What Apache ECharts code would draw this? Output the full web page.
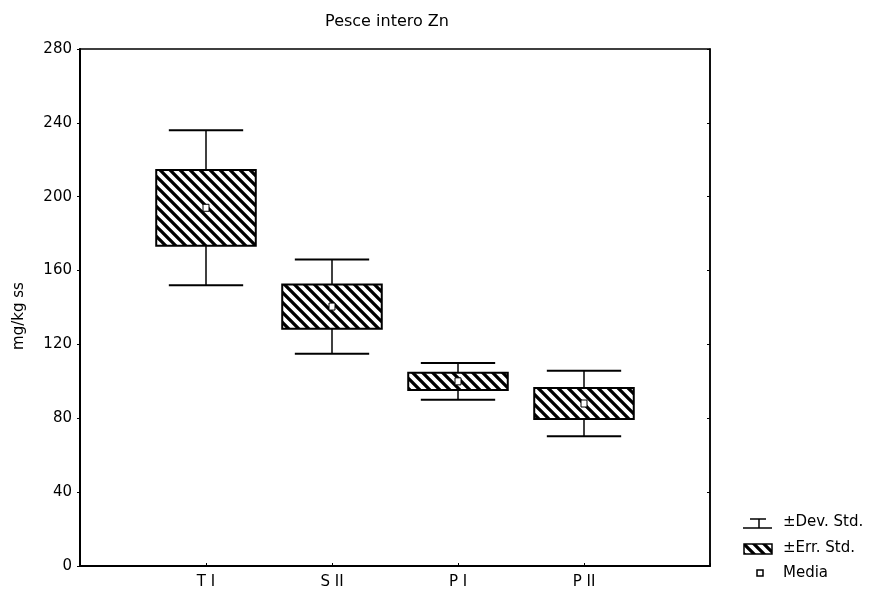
<!DOCTYPE html>
<html>
<head>
<meta charset="utf-8">
<script src="https://cdn.jsdelivr.net/npm/echarts@6/dist/echarts.min.js"></script>
<style>
html,body{margin:0;padding:0;background:#fff;}
#chart{width:870px;height:591px;}
</style>
</head>
<body>
<div id="chart"></div>
<script>
const titleText = 'Pesce intero Zn';
const yAxisName = 'mg/kg ss';
const categories = ['', 'T I', 'S II', 'P I', 'P II', ''];
const groupIndex = [1, 2, 3, 4];
const means = [194, 140.5, 100, 88];
const stdErr = [20.5, 12, 4.7, 8.4];
const stdDev = [42, 25.5, 10, 17.7];
const legendLabels = ['\u00B1Dev. Std.', '\u00B1Err. Std.', 'Media'];

function makeHatch() {
  const s = 10;
  const c = document.createElement('canvas');
  c.width = s; c.height = s;
  const g = c.getContext('2d');
  g.fillStyle = '#fff';
  g.fillRect(0, 0, s, s);
  g.strokeStyle = '#000';
  g.lineWidth = 3.3;
  g.beginPath();
  g.moveTo(-2, -2); g.lineTo(s + 2, s + 2);
  g.moveTo(-2, s - 2); g.lineTo(2, s + 2);
  g.moveTo(s - 2, -2); g.lineTo(s + 2, 2);
  g.stroke();
  return c;
}
const hatch = { image: makeHatch(), repeat: 'repeat' };

const seriesData = groupIndex.map((gi, i) => [gi, means[i], stdErr[i], stdDev[i]]);

const chart = echarts.init(document.getElementById('chart'), null, { renderer: 'canvas' });
const font = 'DejaVu Sans, Verdana, sans-serif';

chart.setOption({
  animation: false,
  backgroundColor: '#fff',
  title: {
    text: titleText,
    left: 382, top: 9, textAlign: 'center',
    textStyle: { fontSize: 16, fontWeight: 'normal', color: '#000', fontFamily: font }
  },
  grid: { left: 80, right: 160, top: 49, bottom: 25, show: true, borderColor: '#000', borderWidth: 1.5, backgroundColor: 'transparent' },
  xAxis: {
    type: 'category',
    data: categories,
    boundaryGap: false,
    axisLine: { show: true, lineStyle: { color: '#000', width: 2 } },
    axisTick: { show: true, inside: true, length: 3, lineStyle: { color: '#000' } },
    axisLabel: { color: '#000', fontSize: 15, fontFamily: font, margin: 9 },
    splitLine: { show: false }
  },
  yAxis: [{
    type: 'value',
    min: 0, max: 280, interval: 40,
    axisLine: { show: true, lineStyle: { color: '#000', width: 2 } },
    axisTick: { show: true, length: 3, lineStyle: { color: '#000' } },
    axisLabel: { color: '#000', fontSize: 15, fontFamily: font, margin: 8 },
    splitLine: { show: false }
  }, {
    type: 'value',
    position: 'right',
    min: 0, max: 280, interval: 40,
    axisLine: { show: true, lineStyle: { color: '#000', width: 1.5 } },
    axisTick: { show: true, inside: true, length: 3, lineStyle: { color: '#000' } },
    axisLabel: { show: false },
    splitLine: { show: false }
  }],
  series: [{
    type: 'custom',
    xAxisIndex: 0, yAxisIndex: 0,
    data: seriesData,
    renderItem: function (params, api) {
      const x = api.value(0);
      const m = api.value(1), se = api.value(2), sd = api.value(3);
      const step = api.size([1, 0])[0];
      const boxW = step * 0.79;
      const capW = step * 0.59;
      const pMean = api.coord([x, m]);
      const pSeHi = api.coord([x, m + se]);
      const pSeLo = api.coord([x, m - se]);
      const pSdHi = api.coord([x, m + sd]);
      const pSdLo = api.coord([x, m - sd]);
      const cx = pMean[0];
      const ls = { stroke: '#000', lineWidth: 1.5 };
      return {
        type: 'group',
        children: [
          { type: 'line', shape: { x1: cx, y1: pSdHi[1], x2: cx, y2: pSeHi[1] }, style: ls },
          { type: 'line', shape: { x1: cx, y1: pSeLo[1], x2: cx, y2: pSdLo[1] }, style: ls },
          { type: 'line', shape: { x1: cx - capW / 2, y1: pSdHi[1], x2: cx + capW / 2, y2: pSdHi[1] }, style: { stroke: '#000', lineWidth: 2 } },
          { type: 'line', shape: { x1: cx - capW / 2, y1: pSdLo[1], x2: cx + capW / 2, y2: pSdLo[1] }, style: { stroke: '#000', lineWidth: 2 } },
          { type: 'rect', shape: { x: cx - boxW / 2, y: pSeHi[1], width: boxW, height: pSeLo[1] - pSeHi[1] },
            style: { fill: hatch, stroke: '#000', lineWidth: 2 } },
          { type: 'rect', shape: { x: cx - 3, y: pMean[1] - 3.5, width: 6, height: 7 },
            style: { fill: '#fff', stroke: '#000', lineWidth: 1 } }
        ]
      };
    }
  }],
  graphic: [
    { type: 'text', x: 19, y: 316, rotation: Math.PI / 2,
      style: { text: yAxisName, fontSize: 15, fontFamily: font, fill: '#000', align: 'center', verticalAlign: 'middle' } },
    { type: 'line', shape: { x1: 750, y1: 519, x2: 766, y2: 519 }, style: { stroke: '#000', lineWidth: 1.5 } },
    { type: 'line', shape: { x1: 759, y1: 519, x2: 759, y2: 528 }, style: { stroke: '#000', lineWidth: 1.5 } },
    { type: 'line', shape: { x1: 743, y1: 528, x2: 772, y2: 528 }, style: { stroke: '#000', lineWidth: 1.5 } },
    { type: 'rect', shape: { x: 744, y: 544, width: 28, height: 10 }, style: { fill: hatch, stroke: '#000', lineWidth: 1.5 } },
    { type: 'rect', shape: { x: 757, y: 570, width: 6, height: 6 }, style: { fill: '#fff', stroke: '#000', lineWidth: 1.5 } },
    { type: 'text', x: 783, y: 522, style: { text: legendLabels[0], fontSize: 15, fontFamily: font, fill: '#000', verticalAlign: 'middle' } },
    { type: 'text', x: 783, y: 548, style: { text: legendLabels[1], fontSize: 15, fontFamily: font, fill: '#000', verticalAlign: 'middle' } },
    { type: 'text', x: 783, y: 573, style: { text: legendLabels[2], fontSize: 15, fontFamily: font, fill: '#000', verticalAlign: 'middle' } }
  ]
});
</script>
</body>
</html>
